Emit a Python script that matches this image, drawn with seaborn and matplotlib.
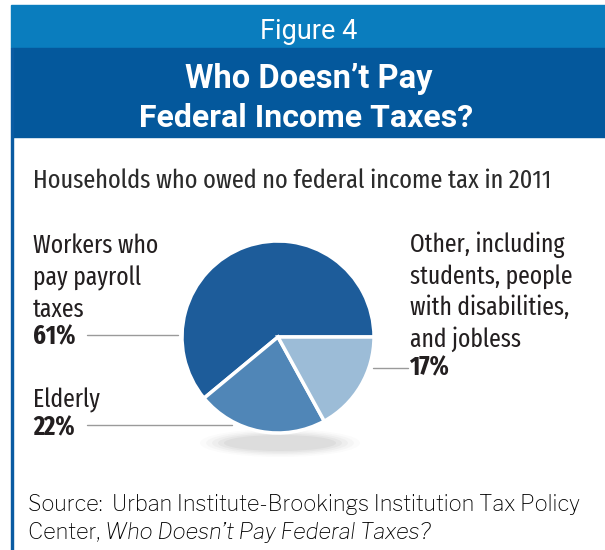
import matplotlib
matplotlib.use("Agg")
import matplotlib.pyplot as plt
import seaborn as sns
from matplotlib.patches import Rectangle, Ellipse

# ---- data ----
categories = ["Workers who pay payroll taxes", "Elderly", "Other, including students, people with disabilities, and jobless"]
shares = [61, 22, 17]
share_labels = ["61%", "22%", "17%"]
slice_colors = ["#1d5c9a", "#5086b7", "#9cbcd7"]

fig_label = "Figure 4"
title_lines = ["Who Doesn\u2019t Pay", "Federal Income Taxes?"]
subtitle = "Households who owed no federal income tax in 2011"
workers_lines = ["Workers who", "pay payroll", "taxes"]
elderly_text = "Elderly"
other_lines = ["Other, including", "students, people", "with disabilities,", "and jobless"]
source_line1 = "Source:  Urban Institute-Brookings Institution Tax Policy"
source_line2a = "Center, "
source_line2b = "Who Doesn\u2019t Pay Federal Taxes?"

sns.set_theme(style="white")
cond = ['Fira Sans Extra Condensed', 'Barlow Condensed', 'Roboto Condensed', 'Liberation Sans Narrow', 'DejaVu Sans']
sans = ['Roboto', 'Liberation Sans', 'DejaVu Sans']
src_font = ['Libre Franklin', 'Open Sans', 'Roboto', 'DejaVu Sans']
plt.rcParams['font.family'] = sans

W, H = 605, 550
fig = plt.figure(figsize=(W / 100, H / 100), dpi=100)
ax = fig.add_axes([0, 0, 1, 1])

def Y(y):
    return H - y

# header bands and left border
ax.add_patch(Rectangle((11, Y(48)), W - 11, 43, color="#0a7dbe", zorder=1))
ax.add_patch(Rectangle((13, Y(137)), W - 13, 89, color="#04589c", zorder=1))
ax.add_patch(Rectangle((11, 0), 2, Y(48), color="#0a5ba2", zorder=1))

ax.text(309, Y(39), fig_label, color="white", fontsize=19.5, ha="center", va="baseline", family=sans, zorder=3)
ax.text(309, Y(88), title_lines[0], color="white", fontsize=23.5, fontweight="bold", ha="center", va="baseline", family=sans, zorder=3)
ax.text(306, Y(127), title_lines[1], color="white", fontsize=23, fontweight="bold", ha="center", va="baseline", family=sans, zorder=3)

txtc = "#231f20"
ax.text(33, Y(188), subtitle, color="#2b2b2b", fontsize=19, ha="left", va="baseline", family=cond)

# pie shadow
cx, cy, r = 278, 337, 96
for i, a in enumerate([0.025, 0.03, 0.04, 0.05, 0.06]):
    w = 160 - i * 12
    h = 28 - i * 3
    ax.add_patch(Ellipse((cx + 2, Y(443)), w, h, color="#555555", alpha=a, lw=0, zorder=2))

wedges, _ = ax.pie(shares, colors=slice_colors, startangle=0, counterclock=True,
                   center=(cx, Y(cy)), radius=r,
                   wedgeprops=dict(edgecolor="white", linewidth=2.5))
for wdg in wedges:
    wdg.set_zorder(4)
ax.set_xlim(0, W)
ax.set_ylim(0, H)
ax.set_aspect("equal")
ax.axis("off")

# labels
lab_fs = 18.5
for i, line in enumerate(workers_lines):
    ax.text(33, Y(253 + 32 * i), line, color=txtc, fontsize=lab_fs, ha="left", va="baseline", family=cond)
ax.text(33, Y(344), share_labels[0], color=txtc, fontsize=lab_fs + 0.5, fontweight="bold", ha="left", va="baseline", family=cond)
ax.plot([87, 178], [Y(335), Y(335)], color="#9a9a9a", lw=1, zorder=3)

ax.text(33, Y(407), elderly_text, color=txtc, fontsize=lab_fs, ha="left", va="baseline", family=cond)
ax.text(33, Y(435), share_labels[1], color=txtc, fontsize=lab_fs + 0.5, fontweight="bold", ha="left", va="baseline", family=cond)
ax.plot([87, 232], [Y(425), Y(425)], color="#9a9a9a", lw=1, zorder=3)

for i, line in enumerate(other_lines):
    ax.text(410, Y(252 + 31.7 * i), line, color=txtc, fontsize=lab_fs, ha="left", va="baseline", family=cond)
ax.text(409, Y(375), share_labels[2], color=txtc, fontsize=lab_fs + 0.5, fontweight="bold", ha="left", va="baseline", family=cond)
ax.plot([373, 408], [Y(368), Y(368)], color="#9a9a9a", lw=1, zorder=3)

# source
src_fs = 15.6
ax.text(28, Y(511), source_line1, color="#000000", fontsize=src_fs, ha="left", va="baseline", family=src_font)
t2 = ax.text(28, Y(539), source_line2a, color="#000000", fontsize=src_fs, ha="left", va="baseline", family=src_font)
ax.annotate(source_line2b, xy=(1, 0), xycoords=t2, ha="left", va="bottom", color="#000000",
            fontsize=src_fs, fontstyle="italic", family=src_font)

fig.savefig("out.png", dpi=100)
